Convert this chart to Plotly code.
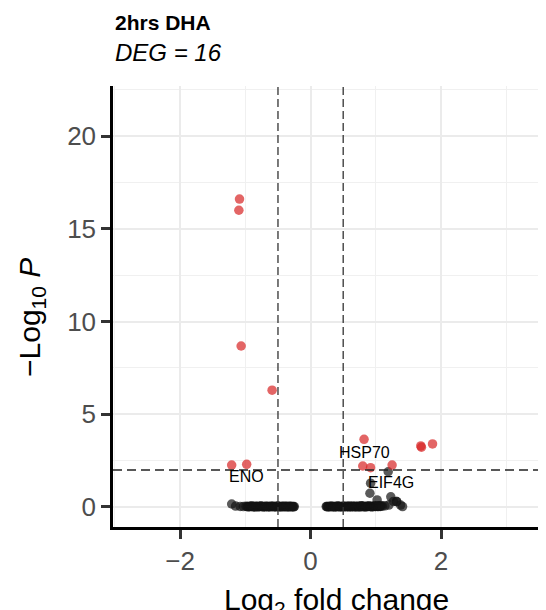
import plotly.graph_objects as go

# ---- data ----
sig_x = [-1.09, -1.10, -1.065, -0.59, -1.21, -0.98, 0.82, 0.80, 0.92, 1.25, 1.69, 1.70, 1.87]
sig_y = [16.6, 16.0, 8.68, 6.3, 2.26, 2.30, 3.65, 2.21, 2.12, 2.26, 3.29, 3.22, 3.40]

ns_x = [-1.21, -1.15, -1.08, -1.03, -0.99, -0.97, -0.96, -0.95, -0.94, -0.93, -0.92, -0.91,
        -0.90, -0.89, -0.88, -0.87, -0.86, -0.85, -0.84, -0.83, -0.82, -0.81, -0.80, -0.79,
        -0.78, -0.77, -0.76, -0.75, -0.74, -0.73, -0.72, -0.71, -0.70, -0.69, -0.68, -0.67,
        -0.66, -0.65, -0.64, -0.63, -0.62, -0.61, -0.60, -0.59, -0.58, -0.57, -0.56, -0.55,
        -0.54, -0.53, -0.52, -0.51, -0.50, -0.49, -0.48, -0.47, -0.46, -0.45, -0.44, -0.43,
        -0.42, -0.41, -0.40, -0.39, -0.38, -0.37, -0.36, -0.35, -0.34, -0.33, -0.32, -0.31,
        -0.30, -0.29, -0.28, -0.27, -0.26, -0.25,
        0.24, 0.25, 0.26, 0.27, 0.28, 0.29, 0.30, 0.31, 0.32, 0.33, 0.34, 0.35, 0.36, 0.37,
        0.38, 0.39, 0.40, 0.41, 0.42, 0.43, 0.44, 0.45, 0.46, 0.47, 0.48, 0.49, 0.50, 0.51,
        0.52, 0.53, 0.54, 0.55, 0.56, 0.57, 0.58, 0.59, 0.60, 0.61, 0.62, 0.63, 0.64, 0.65,
        0.66, 0.67, 0.68, 0.69, 0.70, 0.71, 0.72, 0.73, 0.74, 0.75, 0.76, 0.77, 0.78, 0.79,
        0.80, 0.81, 0.82, 0.83, 0.84, 0.85, 0.86, 0.87, 0.88, 0.89, 0.90, 0.91, 0.92, 0.93,
        0.94, 0.95, 0.96, 0.97, 0.98, 0.99, 1.00, 1.01, 1.02, 1.03, 1.04, 1.05, 1.06, 1.07,
        1.08, 1.10, 1.14, 1.20, 1.27, 1.32, 1.38, 1.41,
        0.92, 0.91, 1.02, 1.19, 1.23, 1.32]
ns_y = [0.16, 0.05, 0.03, 0.02, 0.04, 0.02, 0.01, 0.03, 0.03, 0.02, 0.02, 0.04,
        0.05, 0.02, 0.01, 0.03, 0.02, 0.01, 0.04, 0.02, 0.03, 0.02, 0.01, 0.03,
        0.02, 0.04, 0.05, 0.02, 0.03, 0.01, 0.02, 0.03, 0.01, 0.02, 0.04, 0.03,
        0.02, 0.01, 0.03, 0.02, 0.01, 0.04, 0.02, 0.03, 0.04, 0.02, 0.01, 0.03,
        0.03, 0.01, 0.02, 0.04, 0.05, 0.02, 0.01, 0.03, 0.02, 0.01, 0.03, 0.02,
        0.04, 0.02, 0.01, 0.03, 0.02, 0.04, 0.03, 0.01, 0.01, 0.02, 0.04, 0.03,
        0.02, 0.01, 0.03, 0.02, 0.01, 0.02,
        0.02, 0.03, 0.01, 0.02, 0.03, 0.01, 0.02, 0.04, 0.04, 0.02, 0.01, 0.03, 0.02, 0.01,
        0.03, 0.02, 0.01, 0.04, 0.05, 0.02, 0.02, 0.01, 0.03, 0.02, 0.01, 0.03, 0.04, 0.02,
        0.02, 0.03, 0.01, 0.04, 0.03, 0.02, 0.02, 0.01, 0.05, 0.03, 0.01, 0.02, 0.03, 0.04,
        0.02, 0.01, 0.04, 0.03, 0.01, 0.02, 0.02, 0.04, 0.03, 0.01, 0.01, 0.05, 0.06, 0.02,
        0.02, 0.04, 0.03, 0.01, 0.01, 0.03, 0.04, 0.02, 0.02, 0.04, 0.05, 0.03, 0.03, 0.02,
        0.01, 0.03, 0.02, 0.05, 0.04, 0.02, 0.03, 0.04, 0.06, 0.03, 0.02, 0.04, 0.05, 0.03,
        0.08, 0.04, 0.06, 0.10, 0.30, 0.29, 0.10, 0.02,
        1.28, 0.74, 0.38, 1.90, 0.55, 0.29]

label_text = ["ENO", "HSP70", "EIF4G"]
label_x = [-0.99, 0.82, 1.24]
label_y = [1.62, 2.93, 1.31]

x_ticks = [-2, 0, 2]
x_ticktext = ["\u22122", "0", "2"]
y_ticks = [0, 5, 10, 15, 20]
y_ticktext = ["0", "5", "10", "15", "20"]
fc_cut = [-0.5, 0.5]
p_cut = 2

title_text = "<b>2hrs DHA</b>"
subtitle_text = "<i>DEG = 16</i>"
xtitle = "Log<sub>2</sub> fold change"
ytitle = "\u2212Log<sub>10</sub> <i>P</i>"

FONT = "Liberation Sans, Arial, sans-serif"

fig = go.Figure()
fig.add_trace(go.Scatter(
    x=ns_x, y=ns_y, mode="markers",
    marker=dict(size=9.5, color="rgba(20,20,20,0.7)", line=dict(width=0)),
    hoverinfo="skip", showlegend=False))
fig.add_trace(go.Scatter(
    x=sig_x, y=sig_y, mode="markers",
    marker=dict(size=9.5, color="rgba(215,35,35,0.7)", line=dict(width=0)),
    hoverinfo="skip", showlegend=False))

for t, x, y in zip(label_text, label_x, label_y):
    fig.add_annotation(x=x, y=y, xref="x", yref="y", text=t, showarrow=False,
                       font=dict(family=FONT, size=16, color="black"),
                       xanchor="center", yanchor="middle")

for c in fc_cut:
    fig.add_shape(type="line", xref="x", yref="paper", x0=c, x1=c, y0=0, y1=1,
                  line=dict(color="#333333", width=1.3, dash="8px,4px"), layer="above")
fig.add_shape(type="line", xref="paper", yref="y", x0=0, x1=1, y0=p_cut, y1=p_cut,
              line=dict(color="#222222", width=1.5, dash="9px,5px"), layer="above")

# titles
fig.add_annotation(xref="paper", yref="paper", x=0, y=1.145, xanchor="left", yanchor="middle",
                   text=title_text, showarrow=False,
                   font=dict(family=FONT, size=21, color="black"))
fig.add_annotation(xref="paper", yref="paper", x=0, y=1.075, xanchor="left", yanchor="middle",
                   text=subtitle_text, showarrow=False,
                   font=dict(family=FONT, size=24, color="black"))
fig.add_annotation(xref="paper", yref="paper", x=0.517, y=-0.168, xanchor="center", yanchor="middle",
                   text=xtitle, showarrow=False,
                   font=dict(family=FONT, size=30, color="black"))
fig.add_annotation(xref="paper", yref="paper", x=-0.187, y=0.474, xanchor="center", yanchor="middle",
                   text=ytitle, showarrow=False, textangle=-90,
                   font=dict(family=FONT, size=30, color="black"))

fig.update_layout(
    width=546, height=610,
    margin=dict(l=105, r=8, t=78, b=91),
    paper_bgcolor="white", plot_bgcolor="white",
    font=dict(family=FONT),
    xaxis=dict(range=[-3.03, 3.61], tickvals=x_ticks, ticktext=x_ticktext,
               showgrid=True, gridcolor="#ebebeb", gridwidth=2, zeroline=False,
               minor=dict(tickvals=[-3, -1, 1, 3], showgrid=True, gridcolor="#f0f0f0", gridwidth=1.2),
               showline=True, linecolor="black", linewidth=3,
               ticks="outside", ticklen=9, tickwidth=2.5, tickcolor="#333333",
               tickfont=dict(family=FONT, size=26, color="#4d4d4d")),
    yaxis=dict(range=[-1.08, 22.7], tickvals=y_ticks, ticktext=y_ticktext,
               showgrid=True, gridcolor="#ebebeb", gridwidth=2, zeroline=False,
               minor=dict(tickvals=[2.5, 7.5, 12.5, 17.5, 22.5], showgrid=True, gridcolor="#f0f0f0", gridwidth=1.2),
               showline=True, linecolor="black", linewidth=2.5,
               ticks="outside", ticklen=9, tickwidth=2.5, tickcolor="#333333",
               tickfont=dict(family=FONT, size=26, color="#4d4d4d")),
)

fig.write_html("out.html")
